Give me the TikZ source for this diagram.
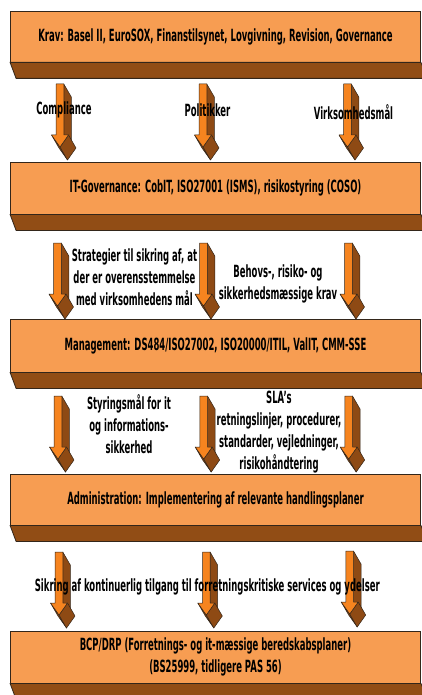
\documentclass[tikz,border=0pt]{standalone}
\usepackage{fontspec}
\newfontfamily\lblfont[FakeStretch=0.505]{DejaVu Sans}
\definecolor{boxface}{HTML}{F79D52}
\definecolor{boxside}{HTML}{914D15}
\definecolor{arrface}{HTML}{F6841F}
\definecolor{arrside}{HTML}{8E4A14}
\definecolor{edgec}{HTML}{33261A}
\tikzset{
  layer/.style={draw=edgec, fill=boxface, line width=0.8pt, minimum width=410pt,
    inner sep=0pt, align=center, text=black,
    font={\lblfont\bfseries\fontsize{16.8pt}{22.5pt}\selectfont}},
  layerside/.style={fill=boxside, draw=edgec, line width=0.8pt},
  lbl/.style={inner sep=0pt, align=center, text=black,
    font={\lblfont\bfseries\fontsize{16.8pt}{22pt}\selectfont}},
  arrsidestyle/.style={fill=arrside, draw=edgec, line width=0.5pt, line join=round},
  arrfrontstyle/.style={fill=arrface, draw=edgec, line width=0.5pt, line join=round},
  blockarrow/.pic={
    \filldraw[arrsidestyle] (3.8,0) -- (11.3,13) -- (11.3,64) -- (3.8,51) -- cycle;
    \filldraw[arrsidestyle] (-8.5,51) -- (0,63) -- (7.5,76) -- (-1,64) -- cycle;
    \filldraw[arrsidestyle] (8.5,51) -- (0,63) -- (7.5,76) -- (16,64) -- cycle;
    \filldraw[arrfrontstyle] (-3.8,0) -- (3.8,0) -- (3.8,51) -- (8.5,51) -- (0,63)
      -- (-8.5,51) -- (-3.8,51) -- cycle;
  }
}
\begin{document}
\begin{tikzpicture}[x=1pt,y=-1pt]
\useasboundingbox (0,0) rectangle (422,695);
\fill[white] (0,0) rectangle (422,695);
\begin{scope}
\clip (0,0) rectangle (422,695);
% layers
\node[layer, minimum height=51pt] (krav) at (215.5,36.5)
  {Krav: Basel II, EuroSOX, Finanstilsynet, Lovgivning, Revision, Governance};
\node[layer, minimum height=52pt] (itgov) at (215.5,188)
  {IT-Governance: CobIT, ISO27001 (ISMS), risikostyring (COSO)};
\node[layer, minimum height=53pt] (mgmt) at (215.5,345.5)
  {Management: DS484/ISO27002, ISO20000/ITIL, ValIT, CMM-SSE};
\node[layer, minimum height=51pt] (admin) at (215.5,499.5)
  {Administration: Implementering af relevante handlingsplaner};
\node[layer, minimum height=52pt] (bcp) at (215.5,657)
  {BCP/DRP (Forretnings- og it-mæssige beredskabsplaner)\\(BS25999, tidligere PAS 56)};
\foreach \n in {krav,itgov,mgmt,admin,bcp}{
  \filldraw[layerside] (\n.south west) -- (\n.south east)
    -- ([shift={(7,16)}]\n.south east) -- ([shift={(6,16)}]\n.south west) -- cycle;
}
% arrows
\pic (a11) at (60,84) {blockarrow};
\pic (a12) at (203,84) {blockarrow};
\pic (a13) at (347.5,84) {blockarrow};
\pic (a21) at (57.5,243) {blockarrow};
\pic (a22) at (203.5,243) {blockarrow};
\pic (a23) at (348.5,243) {blockarrow};
\pic (a31) at (58,396) {blockarrow};
\pic (a32) at (203.7,396) {blockarrow};
\pic (a33) at (348.7,396) {blockarrow};
\pic (a41) at (59,552) {blockarrow};
\pic (a42) at (206.3,552) {blockarrow};
\pic (a43) at (349.7,551) {blockarrow};
\end{scope}
% labels
\node[lbl] (compl) at (64,110) {Compliance};
\node[lbl] (polit) at (207.5,110) {Politikker};
\node[lbl] (virk) at (353.5,112) {Virksomhedsmål};
\node[lbl] (strat) at (134.5,277.5) {Strategier til sikring af, at\\der er overensstemmelse\\med virksomhedens mål};
\node[lbl] (behov) at (278,284) {Behovs-, risiko- og\\sikkerhedsmæssige krav};
\node[lbl] (styr) at (129,424) {Styringsmål for it\\og informations-\\sikkerhed};
\node[lbl] (sla) at (279,432.5) {SLA’s\\retningslinjer, procedurer,\\standarder, vejledninger,\\risikohåndtering};
\node[lbl] (sikr) at (207.3,586.7) {Sikring af kontinuerlig tilgang til forretningskritiske services og ydelser};
\end{tikzpicture}
\end{document}
